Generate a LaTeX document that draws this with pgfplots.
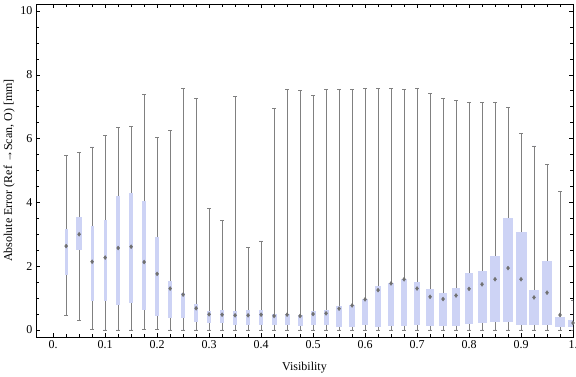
\documentclass[border=0pt]{standalone}
\usepackage{pgfplots}
\pgfplotsset{compat=1.18}
\usepgfplotslibrary{statistics}
\usepackage{fontspec}
\setmainfont{Liberation Serif}
\definecolor{boxc}{RGB}{205,211,245}
\definecolor{whc}{RGB}{128,128,128}
\definecolor{mkc}{RGB}{112,112,112}
\pgfplotsset{
  bx/.style={draw=whc, fill=boxc, line width=0.7pt,
    /pgfplots/boxplot/draw direction=y,
    /pgfplots/boxplot/every box/.style={draw=none, fill=boxc},
    /pgfplots/boxplot/every whisker/.style={draw=whc, line width=0.7pt},
    /pgfplots/boxplot/every median/.style={draw=none},
    /pgfplots/boxplot/whisker extend=0.0077},
}
\begin{document}
\begin{tikzpicture}
\begin{axis}[name=ax,
  scale only axis, width=537pt, height=333pt,
  xmin=-0.033, xmax=1.0, ymin=-0.22, ymax=10.22,
  xtick={0,0.1,0.2,0.3,0.4,0.5,0.6,0.7,0.8,0.9,1},
  xticklabels={0.,0.1,0.2,0.3,0.4,0.5,0.6,0.7,0.8,0.9,1.},
  ytick={0,2,4,6,8,10},
  minor x tick num=3, minor y tick num=3,
  tick align=inside, major tick length=4pt, minor tick length=2.7pt,
  tick style={black, line width=0.6pt},
  axis line style={black, line width=0.8pt},
  /pgf/number format/assume math mode=true,
  tick label style={font=\fontsize{12}{14}\selectfont},
  label style={font=\fontsize{12}{14}\selectfont},
  xlabel={Visibility}, ylabel={Absolute Error (Ref →Scan, O) [mm]},
  xlabel style={at={(axis description cs:0.5,-0.093)}, anchor=center},
  ylabel style={at={(axis description cs:-0.05,0.5)}, anchor=center},
  clip=true,
]
\addplot[bx, boxplot prepared={draw position=0.025, lower whisker=0.46, lower quartile=1.72, median=2.63, upper quartile=3.18, upper whisker=5.48, box extend=0.0058}] coordinates {};
\addplot[bx, boxplot prepared={draw position=0.05, lower whisker=0.29, lower quartile=2.52, median=3.00, upper quartile=3.54, upper whisker=5.57, box extend=0.0102}] coordinates {};
\addplot[bx, boxplot prepared={draw position=0.075, lower whisker=0.02, lower quartile=0.91, median=2.14, upper quartile=3.26, upper whisker=5.74, box extend=0.0058}] coordinates {};
\addplot[bx, boxplot prepared={draw position=0.1, lower whisker=0, lower quartile=0.91, median=2.27, upper quartile=3.44, upper whisker=6.10, box extend=0.0063}] coordinates {};
\addplot[bx, boxplot prepared={draw position=0.125, lower whisker=0, lower quartile=0.79, median=2.57, upper quartile=4.20, upper whisker=6.35, box extend=0.0071}] coordinates {};
\addplot[bx, boxplot prepared={draw position=0.15, lower whisker=0, lower quartile=0.85, median=2.61, upper quartile=4.28, upper whisker=6.38, box extend=0.0077}] coordinates {};
\addplot[bx, boxplot prepared={draw position=0.175, lower whisker=0.02, lower quartile=0.64, median=2.13, upper quartile=4.04, upper whisker=7.39, box extend=0.0063}] coordinates {};
\addplot[bx, boxplot prepared={draw position=0.2, lower whisker=0.02, lower quartile=0.45, median=1.76, upper quartile=2.90, upper whisker=6.05, box extend=0.0063}] coordinates {};
\addplot[bx, boxplot prepared={draw position=0.225, lower whisker=0, lower quartile=0.39, median=1.30, upper quartile=1.54, upper whisker=6.26, box extend=0.0077}] coordinates {};
\addplot[bx, boxplot prepared={draw position=0.25, lower whisker=0, lower quartile=0.39, median=1.11, upper quartile=1.16, upper whisker=7.58, box extend=0.0077}] coordinates {};
\addplot[bx, boxplot prepared={draw position=0.275, lower whisker=0, lower quartile=0.26, median=0.68, upper quartile=0.82, upper whisker=7.26, box extend=0.0077}] coordinates {};
\addplot[bx, boxplot prepared={draw position=0.3, lower whisker=0, lower quartile=0.21, median=0.49, upper quartile=0.60, upper whisker=3.81, box extend=0.0077}] coordinates {};
\addplot[bx, boxplot prepared={draw position=0.325, lower whisker=0, lower quartile=0.21, median=0.48, upper quartile=0.63, upper whisker=3.44, box extend=0.0083}] coordinates {};
\addplot[bx, boxplot prepared={draw position=0.35, lower whisker=0, lower quartile=0.17, median=0.46, upper quartile=0.59, upper whisker=7.33, box extend=0.0083}] coordinates {};
\addplot[bx, boxplot prepared={draw position=0.375, lower whisker=0, lower quartile=0.17, median=0.46, upper quartile=0.63, upper whisker=2.59, box extend=0.0083}] coordinates {};
\addplot[bx, boxplot prepared={draw position=0.4, lower whisker=0, lower quartile=0.17, median=0.48, upper quartile=0.63, upper whisker=2.79, box extend=0.0090}] coordinates {};
\addplot[bx, boxplot prepared={draw position=0.425, lower whisker=0, lower quartile=0.17, median=0.44, upper quartile=0.50, upper whisker=6.95, box extend=0.0096}] coordinates {};
\addplot[bx, boxplot prepared={draw position=0.45, lower whisker=0, lower quartile=0.17, median=0.48, upper quartile=0.51, upper whisker=7.54, box extend=0.0096}] coordinates {};
\addplot[bx, boxplot prepared={draw position=0.475, lower whisker=0, lower quartile=0.13, median=0.44, upper quartile=0.47, upper whisker=7.52, box extend=0.0096}] coordinates {};
\addplot[bx, boxplot prepared={draw position=0.5, lower whisker=0, lower quartile=0.15, median=0.50, upper quartile=0.60, upper whisker=7.35, box extend=0.0096}] coordinates {};
\addplot[bx, boxplot prepared={draw position=0.525, lower whisker=0, lower quartile=0.15, median=0.52, upper quartile=0.63, upper whisker=7.54, box extend=0.0096}] coordinates {};
\addplot[bx, boxplot prepared={draw position=0.55, lower whisker=0, lower quartile=0.10, median=0.67, upper quartile=0.75, upper whisker=7.54, box extend=0.0121}] coordinates {};
\addplot[bx, boxplot prepared={draw position=0.575, lower whisker=0, lower quartile=0.10, median=0.77, upper quartile=0.79, upper whisker=7.54, box extend=0.0115}] coordinates {};
\addplot[bx, boxplot prepared={draw position=0.6, lower whisker=0, lower quartile=0.15, median=0.91, upper quartile=0.96, upper whisker=7.58, box extend=0.0115}] coordinates {};
\addplot[bx, boxplot prepared={draw position=0.625, lower whisker=0, lower quartile=0.10, median=1.25, upper quartile=1.38, upper whisker=7.58, box extend=0.0115}] coordinates {};
\addplot[bx, boxplot prepared={draw position=0.65, lower whisker=0, lower quartile=0.14, median=1.46, upper quartile=1.47, upper whisker=7.57, box extend=0.0115}] coordinates {};
\addplot[bx, boxplot prepared={draw position=0.675, lower whisker=0, lower quartile=0.14, median=1.59, upper quartile=1.60, upper whisker=7.54, box extend=0.0121}] coordinates {};
\addplot[bx, boxplot prepared={draw position=0.7, lower whisker=0, lower quartile=0.17, median=1.30, upper quartile=1.50, upper whisker=7.57, box extend=0.0121}] coordinates {};
\addplot[bx, boxplot prepared={draw position=0.725, lower whisker=0, lower quartile=0.14, median=1.04, upper quartile=1.29, upper whisker=7.42, box extend=0.0140}] coordinates {};
\addplot[bx, boxplot prepared={draw position=0.75, lower whisker=0, lower quartile=0.14, median=0.97, upper quartile=1.16, upper whisker=7.25, box extend=0.0140}] coordinates {};
\addplot[bx, boxplot prepared={draw position=0.775, lower whisker=0, lower quartile=0.14, median=1.08, upper quartile=1.32, upper whisker=7.21, box extend=0.0140}] coordinates {};
\addplot[bx, boxplot prepared={draw position=0.8, lower whisker=0, lower quartile=0.20, median=1.29, upper quartile=1.79, upper whisker=7.14, box extend=0.0140}] coordinates {};
\addplot[bx, boxplot prepared={draw position=0.825, lower whisker=0, lower quartile=0.23, median=1.43, upper quartile=1.85, upper whisker=7.14, box extend=0.0173}] coordinates {};
\addplot[bx, boxplot prepared={draw position=0.85, lower whisker=0, lower quartile=0.26, median=1.59, upper quartile=2.32, upper whisker=7.14, box extend=0.0179}] coordinates {};
\addplot[bx, boxplot prepared={draw position=0.875, lower whisker=0, lower quartile=0.26, median=1.94, upper quartile=3.51, upper whisker=6.98, box extend=0.0192}] coordinates {};
\addplot[bx, boxplot prepared={draw position=0.9, lower whisker=0, lower quartile=0.17, median=1.59, upper quartile=3.07, upper whisker=6.17, box extend=0.0212}] coordinates {};
\addplot[bx, boxplot prepared={draw position=0.925, lower whisker=0, lower quartile=0.17, median=1.02, upper quartile=1.25, upper whisker=5.77, box extend=0.0187}] coordinates {};
\addplot[bx, boxplot prepared={draw position=0.95, lower whisker=0, lower quartile=0.17, median=1.17, upper quartile=2.16, upper whisker=5.20, box extend=0.0198}] coordinates {};
\addplot[bx, boxplot prepared={draw position=0.975, lower whisker=0, lower quartile=0.10, median=0.30, upper quartile=0.42, upper whisker=4.35, box extend=0.0192}] coordinates {};
\addplot[bx, boxplot prepared={draw position=1.0, lower whisker=0, lower quartile=0.08, median=0.22, upper quartile=0.31, upper whisker=0.94, box extend=0.0192}] coordinates {};
\addplot[only marks, mark=diamond*, mark size=2pt, color=mkc] table {
x y
0.025 2.63
0.05 3.00
0.075 2.14
0.1 2.27
0.125 2.57
0.15 2.61
0.175 2.13
0.2 1.76
0.225 1.30
0.25 1.11
0.275 0.68
0.3 0.49
0.325 0.48
0.35 0.46
0.375 0.46
0.4 0.48
0.425 0.44
0.45 0.48
0.475 0.44
0.5 0.50
0.525 0.52
0.55 0.67
0.575 0.77
0.6 0.96
0.625 1.25
0.65 1.46
0.675 1.59
0.7 1.30
0.725 1.04
0.75 0.97
0.775 1.08
0.8 1.29
0.825 1.43
0.85 1.59
0.875 1.94
0.9 1.59
0.925 1.02
0.95 1.17
0.975 0.47
1.0 0.22
};
\end{axis}
\pgfresetboundingbox
\path ([shift={(-36pt,-40pt)}]ax.south west) rectangle ([shift={(3pt,4pt)}]ax.north east);
\end{tikzpicture}
\end{document}
